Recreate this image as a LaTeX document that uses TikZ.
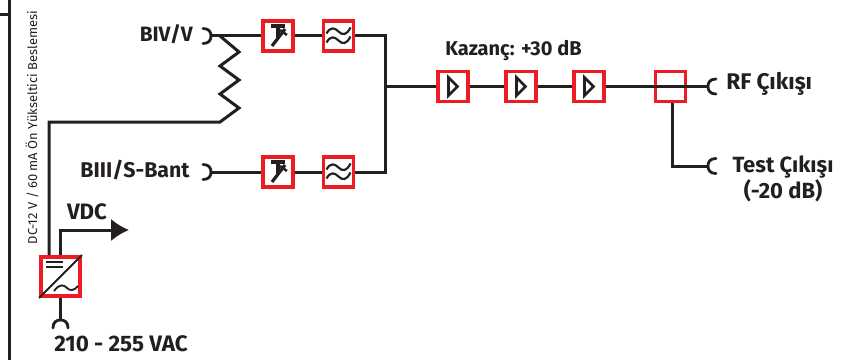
\documentclass[tikz,border=0pt]{standalone}
\usepackage{fontspec}
\setmainfont{Fira Sans}
\usetikzlibrary{arrows.meta}
\definecolor{ink}{HTML}{231F20}
\definecolor{redbox}{HTML}{ED1C24}
\tikzset{
  wire/.style={draw=ink,line width=2.25pt},
  thin wire/.style={draw=ink,line width=1.4pt},
  box/.style={draw=redbox,line width=2.4pt,minimum size=22.5pt,inner sep=0pt,fill=white},
  clearbox/.style={draw=redbox,line width=2.4pt,minimum size=22.5pt,inner sep=0pt},
  psubox/.style={draw=redbox,line width=2.6pt,minimum size=29.5pt,inner sep=0pt,fill=white},
  lab/.style={font=\bfseries\fontsize{#1}{15pt}\selectfont,text=ink,inner sep=0pt,align=center},
  lab/.default=16pt,
  jack/.pic={\draw[draw=ink,line width=2.1pt,line cap=round] (-8,-7.5) .. controls (-2,-7.5) and (0,-4) .. (0,0) .. controls (0,4) and (-2,7.5) .. (-8,7.5);},
  attn/.pic={
    \draw[draw=ink,line width=2.4pt] (-7,-10) -- (7,-10);
    \draw[draw=ink,line width=2.4pt] (0,-10) -- (0,2);
    \draw[draw=ink,line width=2.4pt] (-6,10) -- (7,-7);
    \draw[draw=ink,line width=1.9pt] (2,-6) -- (9,-1);},
  lpf/.pic={
    \foreach \d in {-4.5,4.5}{\draw[draw=ink,line width=1.6pt] (-12,\d+2) .. controls (-8,\d-5) and (-4,\d-4) .. (0,\d) .. controls (4,\d+4) and (8,\d+4) .. (12,\d-4);}
  },
  amp/.pic={\draw[draw=ink,line width=2.1pt,line join=miter] (-4.5,-9) -- (4.5,0) -- (-4.5,9) -- cycle;},
}
\begin{document}
\begin{tikzpicture}[x=0.75pt,y=-0.75pt]
\useasboundingbox (0,0) rectangle (845,360);
% frame
\coordinate (ftop) at (9.5,0); \coordinate (fbot) at (9.5,360);
\coordinate (fstub) at (0,14.5); \coordinate (fstubr) at (9.5,14.5);
\draw[wire] (ftop) -- (fbot);
\draw[wire] (fstub) -- (fstubr);
\node[rotate=90,text=ink,inner sep=0pt,font=\fontsize{9.7pt}{12pt}\selectfont] (feed) at (32,127.5) {DC-12 V / 60 mA Ön Yükseltici Beslemesi};
% boxes
\node[box] (a1) at (278,36) {}; \node[box] (f1) at (338.5,36) {};
\node[box] (a2) at (278,172) {}; \node[box] (f2) at (338.5,172) {};
\node[box] (g1) at (453,86.5) {}; \node[box] (g2) at (521,86.5) {}; \node[box] (g3) at (589,86.5) {};
\node[psubox] (psu) at (60.5,276.5) {};
% coordinates
\coordinate (jb) at (211,36); \coordinate (js) at (211,172);
\coordinate (jr) at (708,86.5); \coordinate (jt) at (708,166);
\coordinate (jac) at (60.5,320);
\coordinate (bus) at (385,86.5);
\coordinate (r0) at (220,36); \coordinate (r1) at (220,122);
\coordinate (dcc) at (49,122);
\coordinate (vdc) at (60.5,230); \coordinate (vdce) at (129,230);
\coordinate (teec) at (672,166);
% wiring
\draw[wire] (jb) -- (a1); \draw[wire] (a1) -- (f1);
\draw[wire] (js) -- (a2); \draw[wire] (a2) -- (f2);
\draw[wire,line join=miter] (f1) -| (bus); \draw[wire,line join=miter] (f2) -| (bus);
\draw[wire] (bus) -- (g1); \draw[wire] (g1) -- (g2); \draw[wire] (g2) -- (g3);
\node[clearbox] (sp) at (670.5,86.5) {};
\draw[wire] (g3) -- (jr);
\draw[wire,line join=miter] (teec |- sp.south) -- (teec) -- (jt);
\draw[wire,line join=miter] (r0) -- (239,52) -- (220,66) -- (239,80) -- (220,94) -- (239,108) -- (r1) -- (dcc) -- (dcc |- psu.north);
\draw[wire,line join=miter,-{Latex[length=13.5pt,width=17pt,sharp]}] (vdc |- psu.north) -- (vdc) -- (vdce);
\draw[wire] (psu.south) -- (jac);
% jacks
\pic at (jb) {jack}; \pic at (js) {jack};
\pic[rotate=180] at (jr) {jack}; \pic[rotate=180] at (jt) {jack};
\pic[rotate=90] at (jac) {jack};
% icons
\pic at (a1) {attn}; \pic at (a2) {attn};
\pic at (f1) {lpf}; \pic at (f2) {lpf};
\pic at (g1) {amp}; \pic at (g2) {amp}; \pic at (g3) {amp};
\draw[thin wire] (46,262) -- (63,262) (46,267) -- (63,267);
\draw[thin wire] (psu.south west) -- (psu.north east);
\draw[thin wire] (54,291) .. controls (60,283) and (64,285) .. (67,288) .. controls (70,291) and (74,291) .. (78,286);
% labels
\node[lab=15.6pt,anchor=east] (lb) at (193,34) {BIV/V};
\node[lab=16pt,anchor=east] (ls) at (190,170) {BIII/S-Bant};
\node[lab=15pt] (lg) at (513.5,51) {Kazanç: +30 dB};
\node[lab=17pt,anchor=west] (lr) at (726,84) {RF Çıkışı};
\node[lab=16.5pt] (lt) at (783,178.5) {Test Çıkışı\\(-20 dB)};
\node[lab=16.7pt] (lv) at (87,212) {VDC};
\node[lab=16.8pt] (la) at (121,344) {210 - 255 VAC};
\end{tikzpicture}
\end{document}
